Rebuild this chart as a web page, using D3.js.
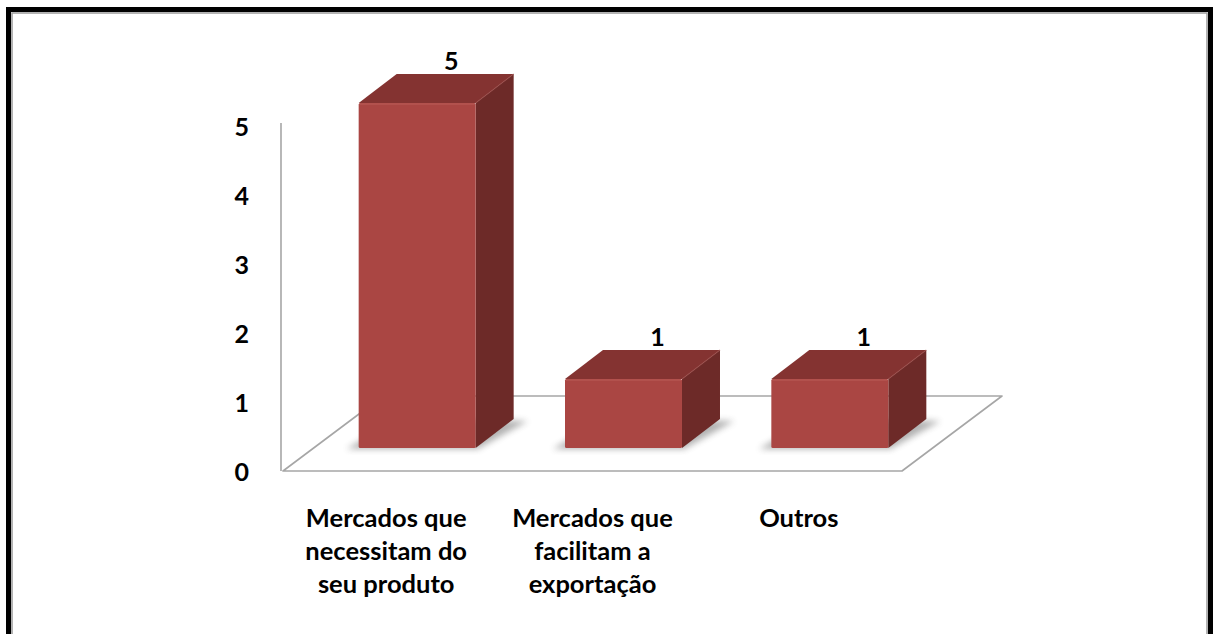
<!DOCTYPE html>
<html>
<head>
<meta charset="utf-8">
<script src="https://cdn.jsdelivr.net/npm/d3@7"></script>
<style>
  html, body { margin: 0; padding: 0; background: #fff; }
  svg { display: block; }
  text { font-family: Lato, "Open Sans", sans-serif; font-weight: 700; fill: #000; }
</style>
</head>
<body>
<svg id="chart" width="1215" height="634"></svg>
<script>
// Data
const categories = [
  ["Mercados que", "necessitam do", "seu produto"],
  ["Mercados que", "facilitam a", "exportação"],
  ["Outros"]
];
const values = [5, 1, 1];
const yTicks = [0, 1, 2, 3, 4, 5];

const svg = d3.select("#chart");
const W = 1215, H = 634;

// Frame
svg.append("rect").attr("x", 8.5).attr("y", 9.5).attr("width", 1202).attr("height", 700)
  .attr("fill", "none").attr("stroke", "#000").attr("stroke-width", 5);
svg.append("rect").attr("x", 12).attr("y", 13).attr("width", 1195).attr("height", 700)
  .attr("fill", "none").attr("stroke", "#9a9a9a").attr("stroke-width", 1.5);

// 3D projection set-up
const floorFrontY = 471;          // front edge of floor
const floorX0 = 283, floorX1 = 902;
const depth = { dx: 100, dy: -75 }; // floor depth vector
const barOffset = { dx: 31, dy: -23 }; // front face of bars relative to front edge
const barDepth = { dx: 38, dy: -29 };

const keys = categories.map((c, i) => i);
const x = d3.scaleBand().domain(keys).range([floorX0, floorX1]);
const h = d3.scaleLinear().domain([0, 5]).range([0, 345]);
const yAxisScale = d3.scaleLinear().domain([0, 5]).range([floorFrontY, floorFrontY - h(5)]);

const defs = svg.append("defs");
defs.append("filter").attr("id", "shadowBlur").attr("x", "-20%").attr("y", "-20%")
  .attr("width", "140%").attr("height", "140%")
  .append("feGaussianBlur").attr("stdDeviation", 3);

const lineColor = "#a6a6a6";

// Floor
const floorPts = [
  [floorX0, floorFrontY],
  [floorX1, floorFrontY],
  [floorX1 + depth.dx, floorFrontY + depth.dy],
  [floorX0 + depth.dx, floorFrontY + depth.dy]
];
svg.append("polygon").attr("points", floorPts.map(p => p.join(",")).join(" "))
  .attr("fill", "#fff").attr("stroke", lineColor).attr("stroke-width", 1.6)
  .attr("stroke-linejoin", "round");

// Vertical axis line
svg.append("line").attr("x1", 281).attr("x2", 281)
  .attr("y1", yAxisScale(5) - 3).attr("y2", floorFrontY)
  .attr("stroke", lineColor).attr("stroke-width", 1.6);

// Y axis tick labels
const yAxis = d3.axisLeft(yAxisScale).tickValues(yTicks).tickSize(0).tickPadding(32)
  .tickFormat(d3.format("d"));
const gy = svg.append("g").attr("transform", "translate(281,0)").call(yAxis);
gy.select(".domain").remove();
gy.selectAll("text").attr("font-family", "Lato, sans-serif").attr("font-weight", 700)
  .attr("font-size", 25).attr("fill", "#000").attr("dy", "0.36em");

// Bars
const barW = x.bandwidth() * 0.567;
const bars = svg.append("g");
values.forEach((v, i) => {
  const cx = x(i) + x.bandwidth() / 2;
  const x0 = cx - barW / 2 + barOffset.dx;
  const x1 = x0 + barW;
  const yb = floorFrontY + barOffset.dy;
  const yt = yb - h(v);
  const dx = barDepth.dx, dy = barDepth.dy;

  // soft shadow on floor
  bars.append("polygon")
    .attr("points", [[x0 - 12, yb + 1], [x1 + 2, yb + 1], [x1 + dx + 14, yb + dy + 2], [x0 + dx, yb + dy]].map(p => p.join(",")).join(" "))
    .attr("fill", "#555").attr("opacity", 0.45).attr("filter", "url(#shadowBlur)");

  // side face
  bars.append("polygon")
    .attr("points", [[x1, yt], [x1 + dx, yt + dy], [x1 + dx, yb + dy], [x1, yb]].map(p => p.join(",")).join(" "))
    .attr("fill", "#6d2a28");
  // top face
  bars.append("polygon")
    .attr("points", [[x0, yt], [x0 + dx, yt + dy], [x1 + dx, yt + dy], [x1, yt]].map(p => p.join(",")).join(" "))
    .attr("fill", "#843331");
  // front face
  bars.append("rect").attr("x", x0).attr("y", yt).attr("width", barW).attr("height", h(v))
    .attr("fill", "#aa4643").attr("rx", 1.5);
  // subtle bevel highlights
  bars.append("line").attr("x1", x0 + 1).attr("x2", x1 - 1).attr("y1", yt + 1).attr("y2", yt + 1)
    .attr("stroke", "#c26662").attr("stroke-width", 1.2).attr("opacity", 0.7);
  bars.append("line").attr("x1", x1).attr("x2", x1 + dx).attr("y1", yt).attr("y2", yt + dy)
    .attr("stroke", "#9a4a47").attr("stroke-width", 1.2).attr("opacity", 0.6);

  // value label
  svg.append("text")
    .attr("x", x0 + dx + barW / 2 - 4)
    .attr("y", yt + dy - 4)
    .attr("text-anchor", "middle")
    .attr("font-size", 25)
    .text(v);
});

// Category labels
categories.forEach((lines, i) => {
  const cx = x(i) + x.bandwidth() / 2;
  const t = svg.append("text").attr("text-anchor", "middle").attr("font-size", 25.5);
  lines.forEach((ln, j) => {
    t.append("tspan").attr("x", cx).attr("y", 527 + j * 33).text(ln);
  });
});
</script>
</body>
</html>
